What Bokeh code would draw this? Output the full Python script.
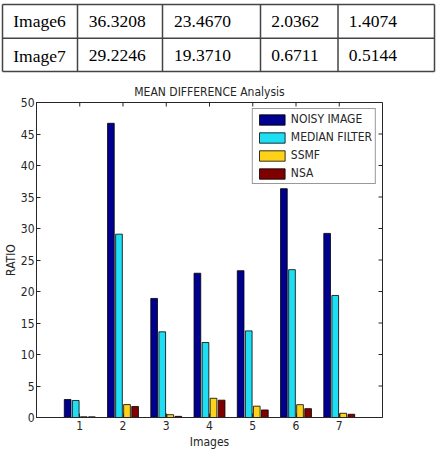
from bokeh.plotting import figure
from bokeh.models import Range1d, FixedTicker, Legend, LegendItem, ColumnDataSource
from bokeh.transform import dodge
from bokeh.core.properties import value
from bokeh.embed import file_html
from bokeh.resources import INLINE

# ---------------- data ----------------
images = [1, 2, 3, 4, 5, 6, 7]
noisy = [2.86, 46.7, 18.9, 22.9, 23.3, 36.3208, 29.2246]
median = [2.70, 29.1, 13.6, 11.9, 13.75, 23.4670, 19.3710]
ssmf = [0.12, 2.05, 0.45, 3.05, 1.80, 2.0362, 0.6711]
nsa = [0.10, 1.75, 0.18, 2.75, 1.20, 1.4074, 0.5144]
series_names = ["NOISY IMAGE", "MEDIAN FILTER", "SSMF", "NSA"]
table_images = [6, 7]
y_ticks = [0, 5, 10, 15, 20, 25, 30, 35, 40, 45, 50]

colors = ["#00008F", "#1FDDF2", "#FFD21A", "#800000"]
FONT = "Liberation Sans Narrow, DejaVu Sans Condensed, Liberation Sans, sans-serif"
SERIF = "Liberation Serif"
INK = "#262626"

X_MIN, X_MAX, Y_MIN, Y_MAX = 0, 8, 0, 50

# ---------------- table (top strip) ----------------
tp = figure(width=439, height=75, x_range=Range1d(0, 439), y_range=Range1d(75, 0),
            output_backend="svg", toolbar_location=None, min_border=0)
tp.axis.visible = False
tp.grid.visible = False
tp.outline_line_color = None

h_lines = [4, 37.7, 71]
v_lines = [2, 77, 162, 260, 337.5, 434]
tp.segment(x0=[2] * len(h_lines), y0=h_lines, x1=[434] * len(h_lines), y1=h_lines,
           line_color="#444444", line_width=1.5)
tp.segment(x0=v_lines, y0=[4] * len(v_lines), x1=v_lines, y1=[71] * len(v_lines),
           line_color="#444444", line_width=1.5)

col_x = [12.7, 88.3, 173.5, 270.7, 348.3]
row_base = [20.5, 55]
tx, ty, tt = [], [], []
for r, img in enumerate(table_images):
    k = images.index(img)
    cells = ["Image%d" % img, "%.4f" % noisy[k], "%.4f" % median[k], "%.4f" % ssmf[k], "%.4f" % nsa[k]]
    for c, s in enumerate(cells):
        tx.append(col_x[c])
        ty.append(row_base[r])
        tt.append(s)
tp.text(x=tx, y=ty, text=tt, text_font=value(SERIF), text_font_size="17.5px",
        text_color="black", text_baseline="alphabetic", text_align="left")

# ---------------- bar chart ----------------
p = figure(width=439, height=376, x_range=Range1d(X_MIN, X_MAX), y_range=Range1d(Y_MIN, Y_MAX),
           output_backend="svg", toolbar_location=None,
           min_border_left=35, min_border_right=57, min_border_top=27, min_border_bottom=34,
           title="MEAN DIFFERENCE Analysis")
p.grid.visible = False
p.outline_line_color = INK
p.background_fill_color = "white"

src = ColumnDataSource(dict(x=images, noisy=noisy, median=median, ssmf=ssmf, nsa=nsa))
keys = ["noisy", "median", "ssmf", "nsa"]
offsets = [-0.28, -0.093, 0.093, 0.28]
renderers = []
for key, off, col in zip(keys, offsets, colors):
    r = p.vbar(x=dodge("x", off), top=key, width=0.155, source=src,
               fill_color=col, line_color="black", line_width=0.8)
    renderers.append(r)

# inward ticks on top and right edges (box style), in data units from tick lists
tick_len_y = (Y_MAX - Y_MIN) * 4 / 315.0
tick_len_x = (X_MAX - X_MIN) * 4 / 347.0
p.segment(x0=images, y0=[Y_MAX] * len(images), x1=images, y1=[Y_MAX - tick_len_y] * len(images),
          line_color=INK, line_width=1)
p.segment(x0=[X_MAX] * len(y_ticks), y0=y_ticks, x1=[X_MAX - tick_len_x] * len(y_ticks), y1=y_ticks,
          line_color=INK, line_width=1)

legend = Legend(items=[LegendItem(label=n, renderers=[r]) for n, r in zip(series_names, renderers)],
                location="top_right", margin=6, padding=3, spacing=4,
                glyph_width=32, glyph_height=13, label_height=13, label_standoff=3,
                label_text_font=FONT, label_text_font_size="12px", label_text_color=INK,
                border_line_color="#333333", border_line_width=1, background_fill_alpha=1)
p.add_layout(legend)

p.xaxis.ticker = FixedTicker(ticks=images)
p.yaxis.ticker = FixedTicker(ticks=y_ticks)
p.xaxis.axis_label = "Images"
p.yaxis.axis_label = "RATIO"

for ax in p.axis:
    ax.major_tick_in = 4
    ax.major_tick_out = 0
    ax.minor_tick_line_color = None
    ax.axis_line_color = INK
    ax.major_tick_line_color = INK
    ax.major_label_text_font = FONT
    ax.major_label_text_font_size = "12px"
    ax.major_label_text_color = INK
    ax.axis_label_text_font = FONT
    ax.axis_label_text_font_size = "12px"
    ax.axis_label_text_font_style = "normal"
    ax.axis_label_text_color = INK

p.yaxis.major_label_standoff = 2
p.yaxis.axis_label_standoff = 0
p.xaxis.major_label_standoff = 3
p.xaxis.axis_label_standoff = 2

p.title.align = "center"
p.title.text_font = FONT
p.title.text_font_size = "12px"
p.title.text_font_style = "normal"
p.title.text_color = INK
p.title.standoff = 8

open("out.html", "w").write(file_html([tp, p], INLINE))
